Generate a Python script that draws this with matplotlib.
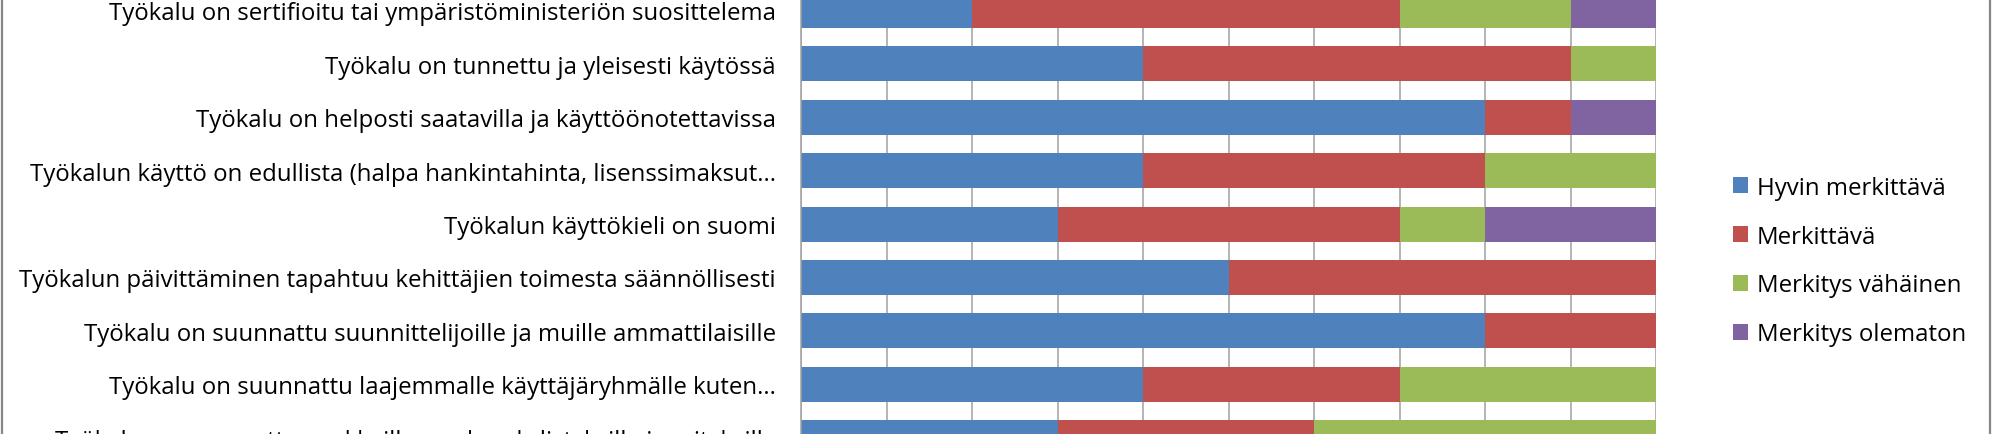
import matplotlib
matplotlib.use("Agg")
import matplotlib.pyplot as plt
import numpy as np
from matplotlib.patches import Rectangle

# Väittämät (ylhäältä alas)
kysymykset = [
    "Työkalu on sertifioitu tai ympäristöministeriön suosittelema",
    "Työkalu on tunnettu ja yleisesti käytössä",
    "Työkalu on helposti saatavilla ja käyttöönotettavissa",
    "Työkalun käyttö on edullista (halpa hankintahinta, lisenssimaksut...",
    "Työkalun käyttökieli on suomi",
    "Työkalun päivittäminen tapahtuu kehittäjien toimesta säännöllisesti",
    "Työkalu on suunnattu suunnittelijoille ja muille ammattilaisille",
    "Työkalu on suunnattu laajemmalle käyttäjäryhmälle kuten...",
    "Työkalu on suunnattu asukkaille, asukasyhdistyksille ja yrityksille",
]

# Vastausten osuudet (%)
hyvin_merkittava = [20, 40, 80, 40, 30, 50, 80, 40, 30]
merkittava = [50, 50, 10, 40, 40, 50, 20, 30, 30]
merkitys_vahainen = [20, 10, 0, 20, 10, 0, 0, 30, 40]
merkitys_olematon = [10, 0, 10, 0, 20, 0, 0, 0, 0]

sarjat = ["Hyvin merkittävä", "Merkittävä", "Merkitys vähäinen", "Merkitys olematon"]
varit = ["#4F81BD", "#C0504D", "#9BBB59", "#8064A2"]

plt.rcParams['font.family'] = ['Open Sans', 'DejaVu Sans']
fs = 17.3

fig = plt.figure(figsize=(19.93, 4.35), dpi=100)
ax = fig.add_axes([801 / 1993, -0.0697, 855 / 1993, 1.1048])

y = np.arange(len(kysymykset))
vasen = np.zeros(len(kysymykset))
for nimi, arvot, vari in zip(sarjat,
                             [hyvin_merkittava, merkittava, merkitys_vahainen, merkitys_olematon],
                             varit):
    ax.barh(y, arvot, left=vasen, height=0.655, color=vari, label=nimi, zorder=2)
    vasen += np.array(arvot)

ax.set_xlim(0, 100)
ax.set_ylim(len(kysymykset) - 0.5, -0.5)
ax.set_xticks(np.arange(0, 101, 10))
ax.xaxis.grid(True, color="#a0a0a0", linewidth=1.1, zorder=0)
ax.set_axisbelow(True)
ax.set_yticks(y)
ax.set_yticklabels(kysymykset, fontsize=fs, color="black")
ax.tick_params(axis='y', length=0, pad=18)
ax.tick_params(axis='x', length=0, labelbottom=False)
for s in ['top', 'right', 'bottom']:
    ax.spines[s].set_visible(False)
ax.spines['left'].set_color("#a0a0a0")
ax.spines['left'].set_linewidth(1.1)

# Selite
ax.legend(loc='center left', bbox_to_anchor=(1733 / 1993, 1 - 262 / 435),
          bbox_transform=fig.transFigure, frameon=False, fontsize=fs,
          handlelength=0.625, handleheight=0.625, handletextpad=0.375,
          labelspacing=1.04, borderpad=0, borderaxespad=0)

# Kaavion reunus
fig.patches.append(Rectangle((2 / 1993, -0.1), 1988 / 1993, 1.2, transform=fig.transFigure,
                             fill=False, edgecolor="#868686", linewidth=1.6))

fig.savefig("out.png", dpi=100)
